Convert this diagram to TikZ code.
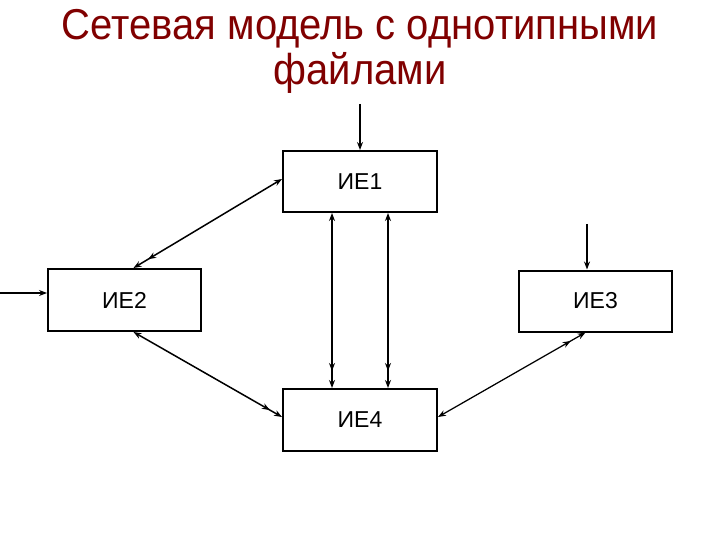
\documentclass[tikz,border=0pt]{standalone}
\usepackage{fontspec}
\usepackage{graphicx}
\setmainfont{Liberation Sans}
\usetikzlibrary{arrows.meta}
\definecolor{titlered}{RGB}{128,0,0}
\tikzset{
  box/.style={draw, line width=2pt, minimum width=154pt, minimum height=61pt, inner sep=0pt, font=\fontsize{23}{27}\selectfont},
  con/.style={line width=1.25pt},
  dcon/.style={line width=1.5pt},
  sarr/.style={-{Stealth[length=8pt,width=6pt]}},
  both1/.style={{Stealth[length=8pt,width=6pt]}-{Stealth[length=8pt,width=6pt,sep=9pt]Stealth[length=8pt,width=6pt]}},
  both2/.style={{Stealth[length=8pt,width=6pt]}-{Stealth[length=8pt,width=6pt,sep=6pt]Stealth[length=8pt,width=6pt]}},
  titletext/.style={font=\fontsize{40}{45}\selectfont, text=titlered, anchor=base, inner sep=0pt}
}
\begin{document}
\begin{tikzpicture}[x=1pt,y=-1pt]
\useasboundingbox (0,0) rectangle (720,540);
\node[titletext] (title1) at (360,40) {\scalebox{1}[1.08]{Сетевая модель с однотипными}};
\node[titletext] (title2) at (360,85) {\scalebox{1}[1.08]{файлами}};

\node[box] (ie1) at (360,181.5) {ИЕ1};
\node[box, minimum width=153pt, minimum height=62pt] (ie2) at (124.5,300) {ИЕ2};
\node[box, minimum width=153pt] (ie3) at (595.5,301) {ИЕ3};
\node[box, minimum height=62pt] (ie4) at (360,420) {ИЕ4};

\coordinate (t1) at (360,104);
\coordinate (t3) at (587,224);
\coordinate (l2) at (0,293);

\draw[con, sarr] (t1) -- (ie1.north);
\draw[con, sarr] (t3) -- ([xshift=-8.5pt]ie3.north);
\draw[con, sarr] (l2) -- ([yshift=7pt]ie2.west);

\draw[dcon, both1] ([yshift=2.5pt]ie1.west) -- ([xshift=9pt]ie2.north);
\draw[dcon, both2] ([xshift=9pt]ie2.south) -- ([yshift=3pt]ie4.west);
\draw[con, both1] ([yshift=3pt]ie4.east) -- ([xshift=-10pt]ie3.south);

\draw[con, both1] ([xshift=-28pt]ie1.south) -- ([xshift=-28pt]ie4.north);
\draw[con, both1] ([xshift=28pt]ie1.south) -- ([xshift=28pt]ie4.north);
\end{tikzpicture}
\end{document}
